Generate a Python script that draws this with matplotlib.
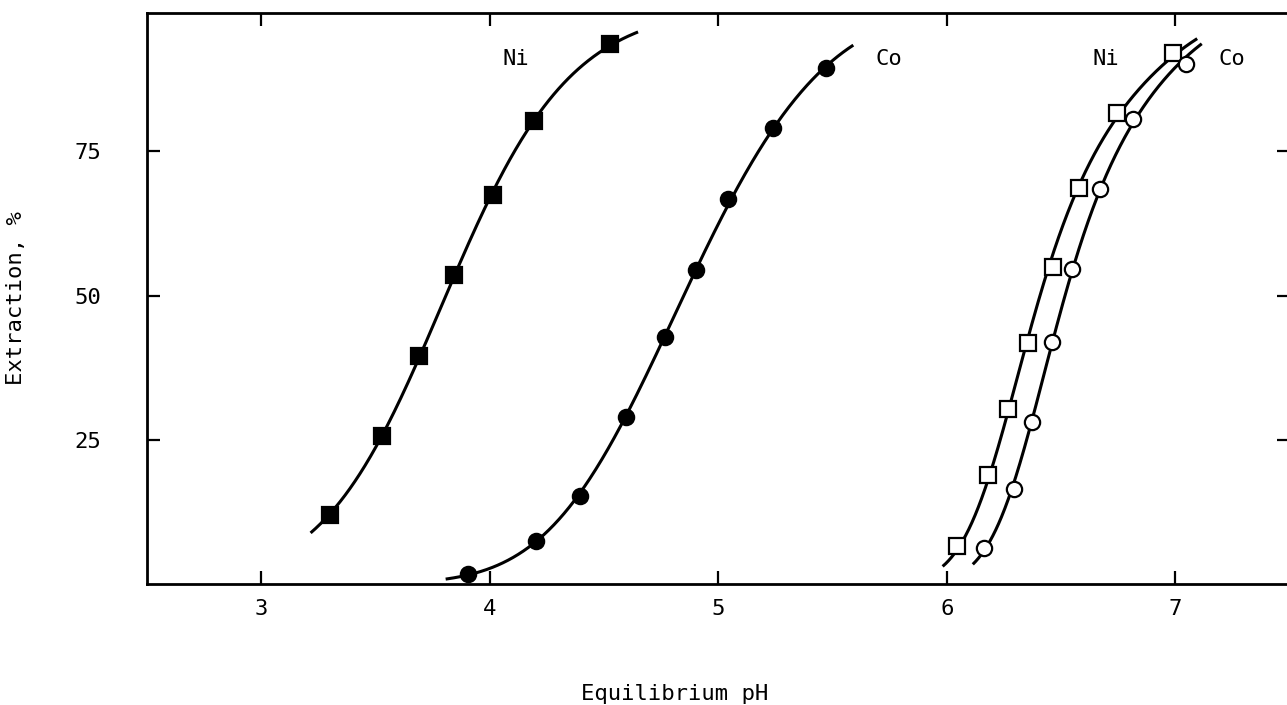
import numpy as np
import matplotlib
matplotlib.use("Agg")
import matplotlib.pyplot as plt

# Measured extraction (%) versus equilibrium pH
ni_a_ph = [3.30, 3.527, 3.690, 3.843, 4.016, 4.194, 4.526]
ni_a_ext = [12.0, 25.7, 39.5, 53.6, 67.4, 80.3, 93.6]
ni_a_ends = [(3.216, 8.9), (4.649, 95.6)]

co_a_ph = [3.906, 4.202, 4.395, 4.595, 4.767, 4.903, 5.044, 5.241, 5.472]
co_a_ext = [1.7, 7.5, 15.2, 28.9, 42.8, 54.4, 66.7, 79.1, 89.5]
co_a_ends = [(3.807, 0.8), (5.591, 93.5)]

ni_b_ph = [6.043, 6.182, 6.267, 6.357, 6.464, 6.577, 6.744, 6.992]
ni_b_ext = [6.6, 18.9, 30.4, 41.7, 55.0, 68.6, 81.6, 92.0]
ni_b_ends = [(5.982, 2.7), (7.096, 94.3)]

co_b_ph = [6.164, 6.294, 6.372, 6.461, 6.548, 6.672, 6.814, 7.047]
co_b_ext = [6.3, 16.5, 28.1, 41.9, 54.6, 68.5, 80.7, 90.2]
co_b_ends = [(6.114, 3.3), (7.116, 94.2)]

labels = [("Ni", 4.113), ("Co", 5.747), ("Ni", 6.697), ("Co", 7.246)]
label_y = 91.1

x_ticks = [3, 4, 5, 6, 7]
y_ticks = [25, 50, 75]


def fitted_curve(ph, ext, ends, deg=3):
    """Smooth extraction curve: least-squares polynomial in logit space."""
    xs_all = np.array([ends[0][0]] + list(ph) + [ends[1][0]])
    ys_all = np.array([ends[0][1]] + list(ext) + [ends[1][1]]) / 100.0
    z = np.log(ys_all / (1 - ys_all))
    coef = np.polyfit(xs_all, z, deg)
    xs = np.linspace(xs_all[0], xs_all[-1], 400)
    zs = np.polyval(coef, xs)
    return xs, 100.0 / (1 + np.exp(-zs))


plt.rcParams["font.family"] = ["DejaVu Sans Mono"]
fs = 16

fig = plt.figure(figsize=(12.87, 7.05), dpi=100)
ax = fig.add_axes([147 / 1287, 121 / 705, 1142.5 / 1287, 571 / 705])

series = [
    (ni_a_ph, ni_a_ext, ni_a_ends, "s", "black"),
    (co_a_ph, co_a_ext, co_a_ends, "o", "black"),
    (ni_b_ph, ni_b_ext, ni_b_ends, "s", "white"),
    (co_b_ph, co_b_ext, co_b_ends, "o", "white"),
]
for ph, ext, ends, mk, fc in series:
    xs, ys = fitted_curve(ph, ext, ends)
    ax.plot(xs, ys, color="black", lw=2.2, solid_capstyle="butt", zorder=2)
    ax.plot(ph, ext, linestyle="none", marker=mk, markersize=11,
            markerfacecolor=fc, markeredgecolor="black",
            markeredgewidth=1.6, zorder=3)

for txt, xp in labels:
    ax.text(xp, label_y, txt, ha="center", va="center", fontsize=fs)

ax.set_xlim(2.5, 7.5)
ax.set_ylim(0, 99)
ax.set_xticks(x_ticks)
ax.set_yticks(y_ticks)
ax.tick_params(direction="in", length=9.5, width=1.6, top=True, right=True,
               labelsize=fs)
ax.tick_params(axis="y", pad=33)
ax.tick_params(axis="x", pad=11)
for s in ax.spines.values():
    s.set_linewidth(2.0)

ax.set_xlabel("Equilibrium pH", fontsize=fs)
ax.xaxis.set_label_coords(0.4615, -0.175)
ax.set_ylabel("Extraction, %", fontsize=fs)
ax.yaxis.set_label_coords(-0.106, 0.5)

fig.savefig("out.png", dpi=100)
